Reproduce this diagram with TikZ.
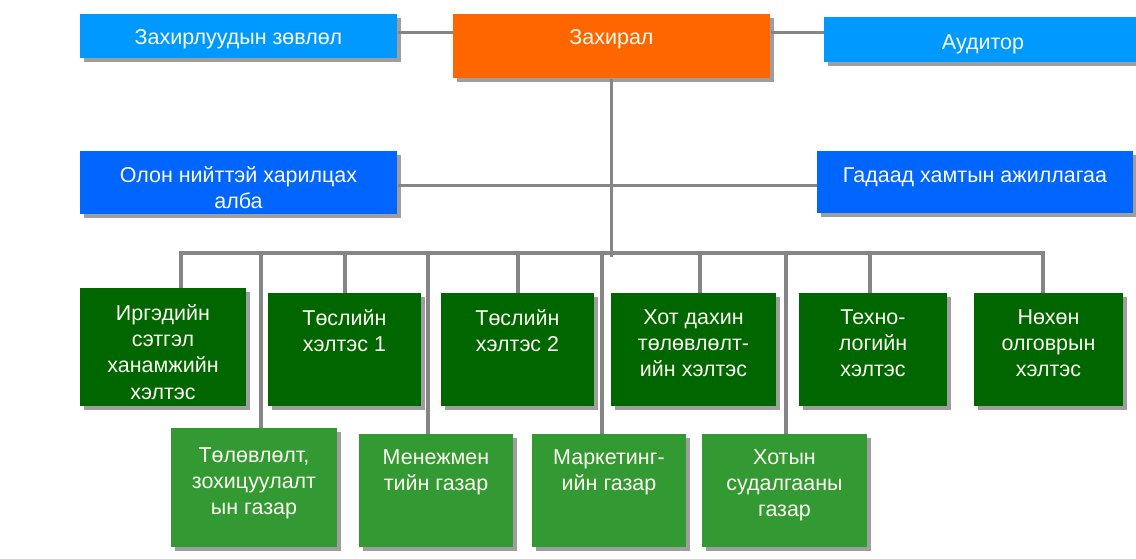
\documentclass[tikz,border=0pt]{standalone}
\usepackage{fontspec}
\setmainfont{Liberation Sans}
\usetikzlibrary{shadows}
\definecolor{lblue}{HTML}{0099FF}
\definecolor{dblue}{HTML}{0066FF}
\definecolor{orng}{HTML}{FF6600}
\definecolor{dgreen}{HTML}{006600}
\definecolor{lgreen}{HTML}{339933}
\definecolor{linegray}{HTML}{858585}
\definecolor{txtc}{HTML}{FCFCF0}
\tikzset{
  box/.style={draw=none, inner sep=0pt, anchor=north west,
    drop shadow={shadow xshift=2.8pt, shadow yshift=-2.8pt, fill=black, opacity=0.38}},
  txt/.style={inner sep=0pt, align=center, text=txtc,
    font=\fontsize{16.1}{19.6}\selectfont},
  conn/.style={draw=linegray, line width=2.4pt}
}
\begin{document}
\begin{tikzpicture}[x=0.75pt, y=-0.75pt]
\useasboundingbox (0,0) rectangle (1136,558);
% top row
\node[box, fill=lblue, minimum width=237.75pt, minimum height=33pt] (board) at (80,14) {};
\node[box, fill=orng, minimum width=237.75pt, minimum height=48pt] (dir) at (453,14) {};
\node[box, fill=lblue, minimum width=240pt, minimum height=33.75pt] (aud) at (824,17) {};
% second row
\node[box, fill=dblue, minimum width=237.75pt, minimum height=47.25pt] (olon) at (80,151) {};
\node[box, fill=dblue, minimum width=237pt, minimum height=46.5pt] (gad) at (817,151) {};
% green row 1
\node[box, fill=dgreen, minimum width=124.5pt, minimum height=88.5pt] (b1) at (80,288) {};
\node[box, fill=dgreen, minimum width=114.75pt, minimum height=84.75pt] (b2) at (268,293) {};
\node[box, fill=dgreen, minimum width=114.75pt, minimum height=84.75pt] (b3) at (441,293) {};
\node[box, fill=dgreen, minimum width=123.75pt, minimum height=84.75pt] (b4) at (611,293) {};
\node[box, fill=dgreen, minimum width=111pt, minimum height=84.75pt] (b5) at (799,293) {};
\node[box, fill=dgreen, minimum width=111.75pt, minimum height=84.75pt] (b6) at (974,293) {};
% green row 2
\node[box, fill=lgreen, minimum width=124.5pt, minimum height=89.25pt] (c1) at (171,428) {};
\node[box, fill=lgreen, minimum width=115.5pt, minimum height=84.75pt] (c2) at (359,434) {};
\node[box, fill=lgreen, minimum width=115.5pt, minimum height=84.75pt] (c3) at (532,434) {};
\node[box, fill=lgreen, minimum width=123.75pt, minimum height=84.75pt] (c4) at (702,434) {};
% texts
\node[txt, anchor=base] (tboard) at (238.5,44) {Захирлуудын зөвлөл};
\node[txt, anchor=base] (tdir) at (611.5,44) {Захирал};
\node[txt, anchor=base] (taud) at (983,49) {Аудитор};
\node[txt, anchor=north] (tolon) at (238.5,166.5) {Олон нийттэй харилцах\\алба};
\node[txt, anchor=base] (tgad) at (975,182) {Гадаад хамтын ажиллагаа};
\node[txt, anchor=north] (tb1) at (163,304.5) {Иргэдийн\\сэтгэл\\ханамжийн\\хэлтэс};
\node[txt, anchor=north] (tb2) at (344.5,309.5) {Төслийн\\хэлтэс 1};
\node[txt, anchor=north] (tb3) at (517.5,309.5) {Төслийн\\хэлтэс 2};
\node[txt, anchor=north] (tb4) at (693.5,309.5) {Хот дахин\\төлөвлөлт-\\ийн хэлтэс};
\node[txt, anchor=north] (tb5) at (873,309.5) {Техно-\\логийн\\хэлтэс};
\node[txt, anchor=north] (tb6) at (1048.5,309.5) {Нөхөн\\олговрын\\хэлтэс};
\node[txt, anchor=north] (tc1) at (254,447.5) {Төлөвлөлт,\\зохицуулалт\\ын газар};
\node[txt, anchor=north] (tc2) at (436,449.5) {Менежмен\\тийн газар};
\node[txt, anchor=north] (tc3) at (609,449.5) {Маркетинг-\\ийн газар};
\node[txt, anchor=north] (tc4) at (784.5,449.5) {Хотын\\судалгааны\\газар};
% bus coordinates
\coordinate (busL) at (181,253);
\coordinate (busR) at (1043,253);
\coordinate (j2) at (345,253);
\coordinate (j3) at (518,253);
\coordinate (j4) at (700,253);
\coordinate (j5) at (870,253);
\coordinate (k1) at (261,253);
\coordinate (k2) at (428,253);
\coordinate (k3) at (602,253);
\coordinate (k4) at (786,253);
% connectors
\draw[conn] ([yshift=3pt]board.east) -- ([yshift=3pt]board.east -| dir.west);
\draw[conn] ([yshift=10.5pt]dir.east) -- ([yshift=10.5pt]dir.east -| aud.west);
\draw[conn] (dir.south) -- ([yshift=-3pt]dir.south |- busL);
\draw[conn] ([yshift=-2pt]olon.east) -- ([yshift=-2pt]olon.east -| gad.west);
\draw[conn, line join=miter] (busL |- b1.north) -- (busL) -- (busR) -- (busR |- b6.north);
\draw[conn] (j2) -- (j2 |- b2.north);
\draw[conn] (j3) -- (j3 |- b3.north);
\draw[conn] (j4) -- (j4 |- b4.north);
\draw[conn] (j5) -- (j5 |- b5.north);
\draw[conn] (k1) -- (k1 |- c1.north);
\draw[conn] (k2) -- (k2 |- c2.north);
\draw[conn] (k3) -- (k3 |- c3.north);
\draw[conn] (k4) -- (k4 |- c4.north);
\end{tikzpicture}
\end{document}
